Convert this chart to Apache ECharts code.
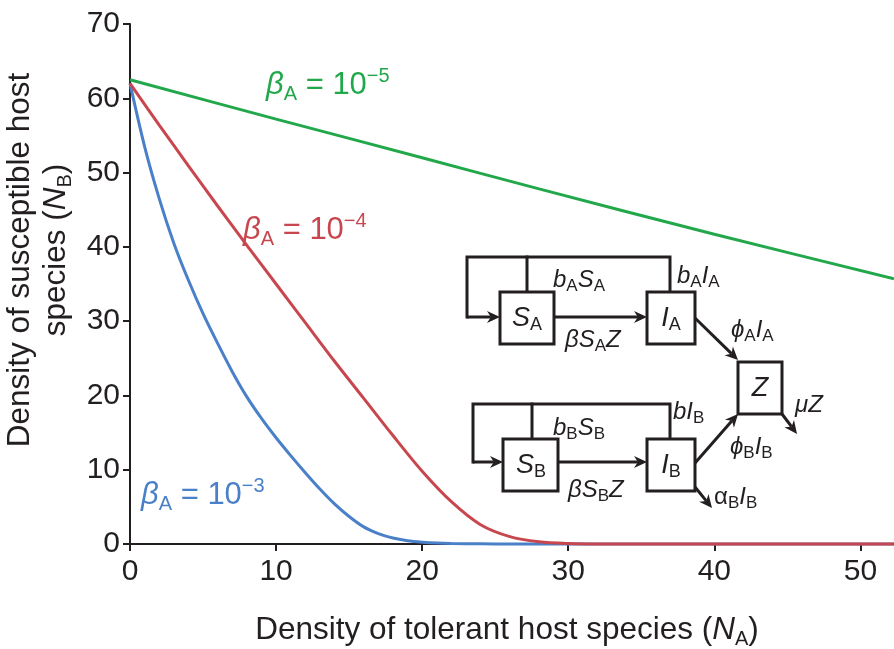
<!DOCTYPE html>
<html>
<head>
<meta charset="utf-8">
<script src="https://cdn.jsdelivr.net/npm/echarts@6/dist/echarts.min.js"></script>
<style>
html,body{margin:0;padding:0;background:#fff;}
#chart{width:894px;height:649px;}
</style>
</head>
<body>
<div id="chart"></div>
<script>
// ---- data ----
const xTicks = [0, 10, 20, 30, 40, 50];
const yTicks = [0, 10, 20, 30, 40, 50, 60, 70];

const greenN = [0, 10, 20, 28, 40, 52.3];
const greenV = [62.5, 57.2, 52.0, 47.8, 41.7, 35.7];

const redN = [0, 2, 4, 6, 8, 10, 12, 14, 16, 18, 20, 22, 24, 26, 28, 30, 32, 40, 52.3];
const redV = [62, 56.4, 50.9, 45.5, 40.2, 35, 29.8, 24.6, 19.6, 14.6, 9.8, 5.7, 2.6, 1.0, 0.3, 0.06, 0, 0, 0];

const blueN = [0, 1, 2, 3, 4, 5, 6, 7, 8, 9, 10, 11, 12, 13, 14, 15, 16, 17, 18, 19, 20, 21, 22, 24, 26, 30, 40, 52.3];
const blueV = [62, 53.5, 46.5, 40.5, 35.5, 31, 27, 23.2, 19.8, 16.9, 14.3, 11.9, 9.6, 7.4, 5.4, 3.7, 2.3, 1.4, 0.8, 0.45, 0.25, 0.12, 0.06, 0.02, 0, 0, 0, 0];

const seriesNames = ['βA = 10^-5', 'βA = 10^-4', 'βA = 10^-3'];

// ---- styling ----
const FONT = "'Liberation Sans', Arial, Helvetica, sans-serif";
const INK = '#231f20';
const GREEN = '#22a84b';
const RED = '#c8474e';
const BLUE = '#4a80c8';

function pairs(n, v) { return n.map((x, i) => [x, v[i]]); }

function betaLabel(x, y, color, exp) {
  return {
    type: 'text', x: x, y: y, z: 10,
    style: {
      text: '{b|β}{s|A}{t| = 10}{p|−' + exp + '}',
      x: 0, y: 0, align: 'left', verticalAlign: 'middle',
      rich: {
        b: { fontSize: 31, fontStyle: 'italic', fontFamily: FONT, fill: color, lineHeight: 38 },
        s: { fontSize: 20, fontFamily: FONT, fill: color, verticalAlign: 'bottom', lineHeight: 21 },
        t: { fontSize: 31, fontFamily: FONT, fill: color, lineHeight: 38 },
        p: { fontSize: 20, fontFamily: FONT, fill: color, verticalAlign: 'top', lineHeight: 21 }
      }
    }
  };
}

const dRich = {
  i: { fontSize: 24, fontStyle: 'italic', fontFamily: FONT, fill: INK, lineHeight: 30 },
  r: { fontSize: 24, fontFamily: FONT, fill: INK, lineHeight: 30 },
  s: { fontSize: 17, fontFamily: FONT, fill: INK, verticalAlign: 'bottom', lineHeight: 18 },
  I: { fontSize: 27, fontStyle: 'italic', fontFamily: FONT, fill: INK, lineHeight: 33 },
  S: { fontSize: 18, fontFamily: FONT, fill: INK, verticalAlign: 'bottom', lineHeight: 19 }
};

function dText(x, y, text, align) {
  return {
    type: 'text', x: x, y: y, z: 20,
    style: { text: text, x: 0, y: 0, align: align || 'left', verticalAlign: 'middle', rich: dRich }
  };
}

function pline(points) {
  return { type: 'polyline', z: 20, shape: { points: points },
    style: { stroke: INK, lineWidth: 3, fill: null, lineJoin: 'miter', lineCap: 'square' } };
}

function box(x, y, w, h) {
  return { type: 'rect', z: 20, shape: { x: x, y: y, width: w, height: h },
    style: { fill: '#fff', stroke: INK, lineWidth: 3 } };
}

function arrow(x1, y1, x2, y2) {
  const L = 13, W = 6;
  const dx = x2 - x1, dy = y2 - y1, d = Math.hypot(dx, dy);
  const ux = dx / d, uy = dy / d, nx = -uy, ny = ux;
  const bx = x2 - ux * L, by = y2 - uy * L;
  const mx = x2 - ux * L * 0.7, my = y2 - uy * L * 0.7;
  return [
    { type: 'polyline', z: 21, shape: { points: [[x1, y1], [mx, my]] },
      style: { stroke: INK, lineWidth: 3, fill: null, lineCap: 'butt' } },
    { type: 'polygon', z: 21, shape: { points: [[x2, y2], [bx + nx * W, by + ny * W], [mx, my], [bx - nx * W, by - ny * W]] },
      style: { fill: INK } }
  ];
}

const diagram = [].concat(
  // top row
  [pline([[527, 292], [527, 257], [467, 257], [467, 317]]),
   pline([[527, 257], [670, 257], [670, 292]])],
  arrow(467, 317, 500, 317),
  [box(500, 292, 54, 52), box(647, 292, 48, 52)],
  arrow(554, 317, 647, 317),
  arrow(695, 318, 738, 360),
  // bottom row
  [pline([[532, 439], [532, 404], [473, 404], [473, 462]]),
   pline([[532, 404], [670, 404], [670, 439]])],
  arrow(473, 462, 503, 462),
  [box(503, 439, 55, 52), box(647, 439, 48, 52)],
  arrow(558, 462, 647, 462),
  arrow(695, 463, 738, 414),
  arrow(695, 487, 712, 508),
  [box(738, 362, 44, 52)],
  arrow(782, 414, 797, 434),
  [
    dText(527, 318, '{I|S}{S|A}', 'center'),
    dText(671, 318, '{I|I}{S|A}', 'center'),
    dText(760, 388, '{I|Z}', 'center'),
    dText(531, 465, '{I|S}{S|B}', 'center'),
    dText(671, 465, '{I|I}{S|B}', 'center'),
    dText(553, 280, '{i|b}{s|A}{i|S}{s|A}'),
    dText(677, 276, '{i|b}{s|A}{i|I}{s|A}'),
    dText(565, 340, '{i|βS}{s|A}{i|Z}'),
    dText(731, 330, '{i|ϕ}{s|A}{i|I}{s|A}'),
    dText(795, 405, '{i|μZ}'),
    dText(553, 428, '{i|b}{s|B}{i|S}{s|B}'),
    dText(673, 412, '{i|bI}{s|B}'),
    dText(568, 490, '{i|βS}{s|B}{i|Z}'),
    dText(730, 447, '{i|ϕ}{s|B}{i|I}{s|B}'),
    dText(714, 497, '{r|α}{s|B}{i|I}{s|B}')
  ]
);

const titleRich = {
  t: { fontSize: 31.5, fontFamily: FONT, fill: INK, lineHeight: 38 },
  n: { fontSize: 31.5, fontStyle: 'italic', fontFamily: FONT, fill: INK, lineHeight: 38 },
  s: { fontSize: 20, fontFamily: FONT, fill: INK, verticalAlign: 'bottom', lineHeight: 21 }
};

const titles = [
  { type: 'text', x: 20, y: 260, rotation: Math.PI / 2, z: 10,
    style: { text: '{t|Density of susceptible host}', x: 0, y: 0, align: 'center', verticalAlign: 'middle', rich: titleRich } },
  { type: 'text', x: 56, y: 250, rotation: Math.PI / 2, z: 10,
    style: { text: '{t|species (}{n|N}{s|B}{t|)}', x: 0, y: 0, align: 'center', verticalAlign: 'middle', rich: titleRich } },
  { type: 'text', x: 507, y: 630, z: 10,
    style: { text: '{t|Density of tolerant host species (}{n|N}{s|A}{t|)}', x: 0, y: 0, align: 'center', verticalAlign: 'middle', rich: titleRich } }
];

const labels = [
  betaLabel(266, 85, GREEN, '5'),
  betaLabel(243, 230, RED, '4'),
  betaLabel(141, 495, BLUE, '3')
];

const axisCommon = {
  type: 'value',
  min: 0,
  interval: 10,
  splitLine: { show: false },
  axisLine: { show: true, onZero: false, lineStyle: { color: INK, width: 2 } },
  axisTick: { show: true, inside: false, length: 7, lineStyle: { color: INK, width: 2 } },
  axisLabel: { fontSize: 30, fontFamily: FONT, color: INK }
};

const chart = echarts.init(document.getElementById('chart'), null, { renderer: 'canvas' });
chart.setOption({
  animation: false,
  backgroundColor: '#fff',
  grid: { left: 130, right: 0, top: 24, bottom: 105, containLabel: false },
  xAxis: Object.assign({}, axisCommon, {
    max: 52.3,
    axisTick: Object.assign({}, axisCommon.axisTick, { customValues: xTicks }),
    axisLabel: Object.assign({}, axisCommon.axisLabel, { customValues: xTicks, margin: 13 })
  }),
  yAxis: Object.assign({}, axisCommon, {
    max: 70,
    axisTick: Object.assign({}, axisCommon.axisTick, { customValues: yTicks }),
    axisLabel: Object.assign({}, axisCommon.axisLabel, { customValues: yTicks, margin: 10 })
  }),
  series: [
    { name: seriesNames[0], type: 'line', data: pairs(greenN, greenV), showSymbol: false, smooth: 0.3,
      lineStyle: { color: GREEN, width: 3 }, itemStyle: { color: GREEN }, clip: false, z: 3 },
    { name: seriesNames[2], type: 'line', data: pairs(blueN, blueV), showSymbol: false, smooth: 0.3,
      lineStyle: { color: BLUE, width: 3 }, itemStyle: { color: BLUE }, clip: false, z: 3 },
    { name: seriesNames[1], type: 'line', data: pairs(redN, redV), showSymbol: false, smooth: 0.3,
      lineStyle: { color: RED, width: 3 }, itemStyle: { color: RED }, clip: false, z: 4 }
  ],
  graphic: { elements: [].concat(titles, labels, diagram) }
});
</script>
</body>
</html>
